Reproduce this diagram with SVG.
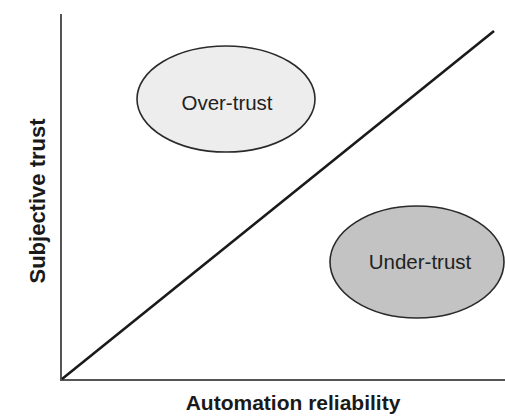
<svg xmlns="http://www.w3.org/2000/svg" width="505" height="416" viewBox="0 0 505 416">
  <style>
    .axis { stroke: #555; stroke-width: 2; fill: none; }
    .diag { stroke: #1a1a1a; stroke-width: 2.6; fill: none; }
    .blob { stroke: #2a2a2a; stroke-width: 1.6; }
    .lbl { font-family: "Liberation Sans", Arial, sans-serif; font-size: 20.5px; fill: #222; text-anchor: middle; }
    .axlbl { font-family: "Liberation Sans", Arial, sans-serif; font-size: 21px; font-weight: bold; fill: #1a1a1a; text-anchor: middle; }
  </style>
  <rect width="505" height="416" fill="#fff"/>
  <g id="connectors">
    <path class="axis" d="M61,14 V380 H505"/>
    <path class="diag" d="M62,379 L494,31"/>
  </g>
  <g id="over-trust">
    <ellipse class="blob" cx="226" cy="99" rx="89" ry="53" fill="#ededed"/>
    <text class="lbl" x="227" y="110">Over-trust</text>
  </g>
  <g id="under-trust">
    <ellipse class="blob" cx="417" cy="262" rx="87" ry="56" fill="#c3c3c3"/>
    <text class="lbl" x="420" y="269">Under-trust</text>
  </g>
  <g id="axis-labels">
    <text class="axlbl" style="font-size:22px" transform="translate(45,201) rotate(-90)">Subjective trust</text>
    <text class="axlbl" x="293" y="410">Automation reliability</text>
  </g>
</svg>
